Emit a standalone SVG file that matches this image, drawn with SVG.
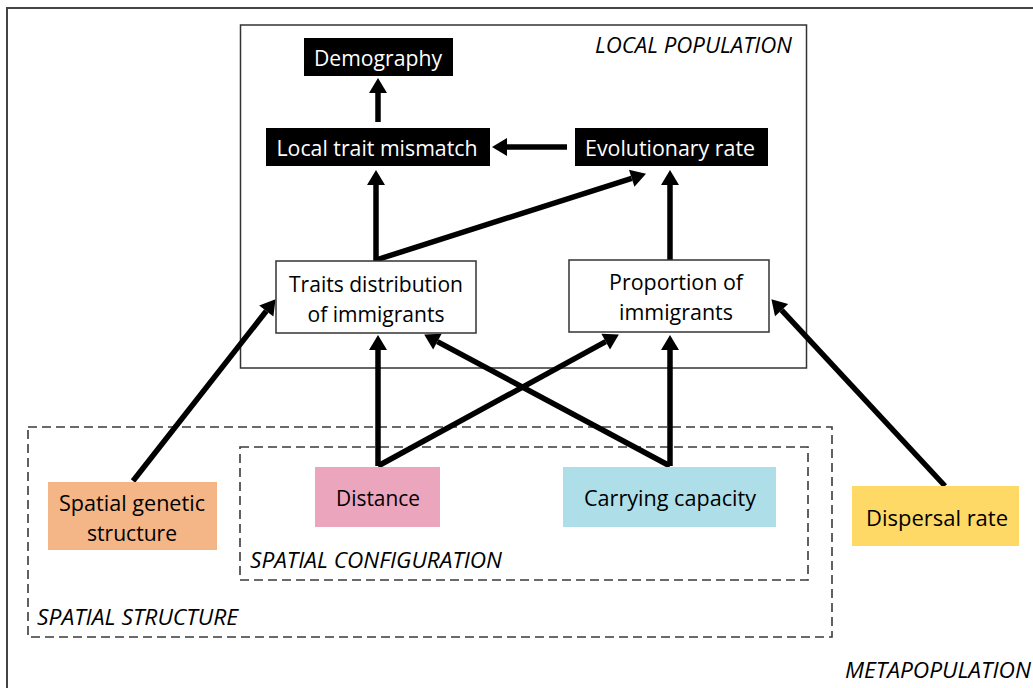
<svg xmlns="http://www.w3.org/2000/svg" width="1033" height="688" viewBox="0 0 1033 688">
<defs>
<style>
text{font-family:"Open Sans","Liberation Sans",sans-serif;font-size:22px;fill:#000;text-anchor:middle;dominant-baseline:central}
.lbl{font-style:italic;text-anchor:start;font-size:21px}
.blk{fill:#000}
.wt{fill:#fff}
.wbox{fill:#fff;stroke:#333;stroke-width:1.5}
.dash{fill:none;stroke:#3a3a3a;stroke-width:1.6;stroke-dasharray:9 5}
.conn line{stroke:#000;stroke-width:5.5}
.arr{marker-end:url(#ah)}
</style>
<marker id="ah" markerUnits="userSpaceOnUse" markerWidth="16" markerHeight="18" refX="0" refY="9" orient="auto" overflow="visible">
<path d="M0,0 L15,9 L0,18 z" fill="#000"/>
</marker>
</defs>
<rect width="1033" height="688" fill="#fff"/>
<rect x="7" y="8" width="1040" height="700" fill="none" stroke="#444" stroke-width="2"/>
<text class="lbl" x="845" y="670" textLength="186" lengthAdjust="spacingAndGlyphs">METAPOPULATION</text>
<rect x="240.5" y="25" width="566" height="343" fill="none" stroke="#333" stroke-width="1.5"/>
<text class="lbl" x="595" y="45" textLength="197" lengthAdjust="spacingAndGlyphs">LOCAL POPULATION</text>
<rect class="dash" x="28" y="427" width="804" height="210"/>
<text class="lbl" x="37" y="617" textLength="201" lengthAdjust="spacingAndGlyphs">SPATIAL STRUCTURE</text>
<rect class="dash" x="240" y="447" width="568" height="133"/>
<text class="lbl" x="250" y="560" textLength="252" lengthAdjust="spacingAndGlyphs">SPATIAL CONFIGURATION</text>

<g class="conn" id="connectors">
<line class="arr" x1="378" y1="122" x2="378" y2="93"/>
<line class="arr" x1="567" y1="147" x2="507" y2="147"/>
<line class="arr" x1="376" y1="262" x2="376" y2="185"/>
<line class="arr" x1="376" y1="260" x2="631.7" y2="178.3"/>
<line class="arr" x1="670" y1="260" x2="670" y2="185"/>
<line class="arr" x1="133" y1="481" x2="266.3" y2="311"/>
<line class="arr" x1="378" y1="466" x2="378" y2="350"/>
<line class="arr" x1="378" y1="466" x2="605.7" y2="341.7"/>
<line class="arr" x1="670" y1="466" x2="670" y2="350"/>
<line class="arr" x1="670" y1="466" x2="437.4" y2="341.6"/>
<line class="arr" x1="945" y1="486" x2="781.6" y2="310.2"/>
</g>

<g id="demography"><rect class="blk" x="304" y="38" width="149" height="38"/><text class="wt" x="378" y="57" textLength="128" lengthAdjust="spacingAndGlyphs">Demography</text></g>
<g id="local-trait-mismatch"><rect class="blk" x="266" y="128" width="224" height="38"/><text class="wt" x="377" y="147" textLength="201" lengthAdjust="spacingAndGlyphs">Local trait mismatch</text></g>
<g id="evolutionary-rate"><rect class="blk" x="575" y="128" width="193" height="38"/><text class="wt" x="670" y="147" textLength="170" lengthAdjust="spacingAndGlyphs">Evolutionary rate</text></g>
<g id="traits-distribution"><rect class="wbox" x="276" y="261" width="200" height="72"/><text x="376" y="283" textLength="174" lengthAdjust="spacingAndGlyphs">Traits distribution</text><text x="376" y="313" textLength="137" lengthAdjust="spacingAndGlyphs">of immigrants</text></g>
<g id="proportion-immigrants"><rect class="wbox" x="569" y="260" width="200" height="72"/><text x="676" y="281" textLength="134" lengthAdjust="spacingAndGlyphs">Proportion of</text><text x="676" y="311" textLength="114" lengthAdjust="spacingAndGlyphs">immigrants</text></g>
<g id="spatial-genetic-structure"><rect x="48" y="482" width="169" height="68" fill="#F4B587"/><text x="132" y="502" textLength="146" lengthAdjust="spacingAndGlyphs">Spatial genetic</text><text x="132" y="532" textLength="90" lengthAdjust="spacingAndGlyphs">structure</text></g>
<g id="distance"><rect x="315" y="467" width="125" height="60" fill="#EBA5BC"/><text x="378" y="497" textLength="84" lengthAdjust="spacingAndGlyphs">Distance</text></g>
<g id="carrying-capacity"><rect x="563" y="467" width="213" height="60" fill="#AEDFE8"/><text x="670" y="497" textLength="172" lengthAdjust="spacingAndGlyphs">Carrying capacity</text></g>
<g id="dispersal-rate"><rect x="852" y="486" width="167" height="60" fill="#FED966"/><text x="937" y="517" textLength="142" lengthAdjust="spacingAndGlyphs">Dispersal rate</text></g>
</svg>
